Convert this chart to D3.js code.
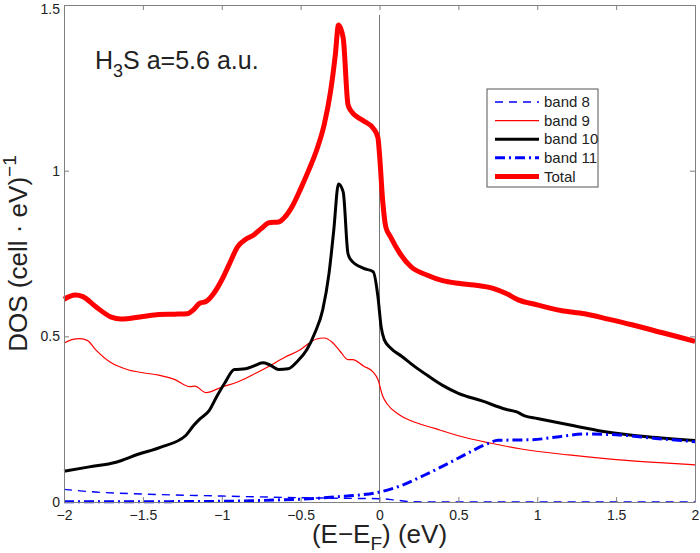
<!DOCTYPE html>
<html>
<head>
<meta charset="utf-8">
<script src="https://cdn.jsdelivr.net/npm/d3@7"></script>
<style>
  body { margin: 0; background: #fff; }
  svg { font-family: "Liberation Sans", Arial, sans-serif; }
</style>
</head>
<body>
<div id="chart"></div>
<script>
// energy (eV) vs DOS
const band8 = [[-2, 0.038], [-1.8, 0.03], [-1.5, 0.024], [-1.0, 0.018], [-0.5, 0.013], [-0.2, 0.011],
  [0, 0.01], [0.1, 0.006], [0.2, 0.001], [0.3, 0], [2, 0]];

const band9 = [[-2, 0.48], [-1.95, 0.49], [-1.9, 0.493], [-1.85, 0.487], [-1.8, 0.46], [-1.7, 0.42],
  [-1.6, 0.4], [-1.5, 0.39], [-1.4, 0.383], [-1.3, 0.37], [-1.2, 0.348], [-1.17, 0.35], [-1.1, 0.33],
  [-1.0, 0.347], [-0.9, 0.362], [-0.8, 0.385], [-0.7, 0.41], [-0.6, 0.437], [-0.5, 0.46], [-0.45, 0.478],
  [-0.4, 0.492], [-0.35, 0.495], [-0.3, 0.482], [-0.25, 0.455], [-0.2, 0.43], [-0.17, 0.43], [-0.1, 0.41],
  [-0.04, 0.392], [-0.01, 0.37], [0.02, 0.32], [0.05, 0.295], [0.12, 0.265], [0.2, 0.245], [0.35, 0.222],
  [0.5, 0.2], [0.7, 0.178], [0.9, 0.16], [1.2, 0.142], [1.5, 0.128], [1.8, 0.118], [2.0, 0.112]];

const band10 = [[-2, 0.093], [-1.84, 0.106], [-1.67, 0.12], [-1.53, 0.144], [-1.39, 0.165], [-1.23, 0.2],
  [-1.18, 0.23], [-1.14, 0.25], [-1.08, 0.276], [-1.03, 0.32], [-0.98, 0.36], [-0.92, 0.4], [-0.85, 0.402],
  [-0.8, 0.41], [-0.74, 0.42], [-0.7, 0.415], [-0.64, 0.4], [-0.58, 0.402], [-0.52, 0.425], [-0.46, 0.46],
  [-0.41, 0.51], [-0.36, 0.58], [-0.32, 0.69], [-0.29, 0.82], [-0.26, 0.96], [-0.23, 0.935], [-0.2, 0.75],
  [-0.18, 0.73], [-0.1, 0.705], [-0.04, 0.695], [-0.01, 0.62], [0.01, 0.53], [0.03, 0.49], [0.07, 0.465],
  [0.14, 0.44], [0.22, 0.41], [0.31, 0.38], [0.4, 0.352], [0.5, 0.328], [0.65, 0.305], [0.8, 0.28],
  [0.87, 0.272], [0.92, 0.26], [1.0, 0.252], [1.2, 0.233], [1.42, 0.213], [1.7, 0.197], [2.0, 0.186]];

const band11 = [[-2, 0.001], [-1.5, 0.001], [-1.0, 0.002], [-0.8, 0.004], [-0.6, 0.007], [-0.4, 0.011],
  [-0.26, 0.016], [-0.13, 0.021], [0, 0.03], [0.14, 0.05], [0.28, 0.08], [0.43, 0.115], [0.57, 0.15],
  [0.68, 0.175], [0.75, 0.186], [0.97, 0.188], [1.15, 0.198], [1.3, 0.205], [1.5, 0.203], [1.75, 0.192],
  [2.0, 0.182]];

const total = [[-2, 0.612], [-1.93, 0.625], [-1.88, 0.62], [-1.8, 0.59], [-1.7, 0.558], [-1.64, 0.552],
  [-1.5, 0.56], [-1.4, 0.566], [-1.3, 0.567], [-1.22, 0.568], [-1.18, 0.58], [-1.14, 0.6], [-1.1, 0.605],
  [-1.05, 0.63], [-1.0, 0.67], [-0.95, 0.72], [-0.9, 0.77], [-0.85, 0.792], [-0.8, 0.805], [-0.75, 0.825],
  [-0.7, 0.843], [-0.64, 0.845], [-0.6, 0.86], [-0.55, 0.895], [-0.5, 0.945], [-0.45, 1.0], [-0.4, 1.06],
  [-0.35, 1.14], [-0.31, 1.24], [-0.28, 1.35], [-0.26, 1.44], [-0.23, 1.40], [-0.2, 1.2], [-0.18, 1.18],
  [-0.1, 1.15], [-0.04, 1.128], [-0.01, 1.1], [0, 1.05], [0.02, 0.91], [0.04, 0.83], [0.07, 0.8],
  [0.13, 0.75], [0.2, 0.71], [0.3, 0.685], [0.4, 0.668], [0.5, 0.66], [0.6, 0.655], [0.72, 0.645],
  [0.8, 0.63], [0.88, 0.61], [1.0, 0.595], [1.15, 0.578], [1.3, 0.568], [1.45, 0.552], [1.6, 0.535],
  [1.8, 0.51], [2.0, 0.485]];

const fermiLine = [[0, 0], [0, 1.47]];

const xTicks = [-2, -1.5, -1, -0.5, 0, 0.5, 1, 1.5, 2];
const yTicks = [0, 0.5, 1, 1.5];
const legendNames = ["band 8", "band 9", "band 10", "band 11", "Total"];

const width = 700, height = 553;
const margin = { left: 64, right: 5, top: 5, bottom: 51 };

const svg = d3.select("#chart").append("svg")
  .attr("width", width)
  .attr("height", height);

const x = d3.scaleLinear().domain([-2, 2]).range([margin.left, width - margin.right]);
const y = d3.scaleLinear().domain([0, 1.5]).range([height - margin.bottom, margin.top]);

const line = d3.line()
  .x(d => x(d[0]))
  .y(d => y(d[1]))
  .curve(d3.curveMonotoneX);

// series styles, same order as legend
const series = [
  { data: band8, color: "#0000ff", w: 1.4, dash: "8,6" },
  { data: band9, color: "#ff0000", w: 1.2, dash: null },
  { data: band10, color: "#000000", w: 3, dash: null },
  { data: band11, color: "#0000ff", w: 3, dash: "10,4,2,4" },
  { data: total, color: "#ff0000", w: 5, dash: null }
];

const axisColor = "#808080";

// zero line
svg.append("path")
  .attr("d", d3.line().x(d => x(d[0])).y(d => y(d[1]))(fermiLine))
  .attr("stroke", "#777")
  .attr("stroke-width", 1)
  .attr("fill", "none");

const plotOrder = [1, 2, 4, 0, 3];
plotOrder.forEach(i => {
  const s = series[i];
  svg.append("path")
    .attr("d", line(s.data))
    .attr("fill", "none")
    .attr("stroke", s.color)
    .attr("stroke-width", s.w)
    .attr("stroke-dasharray", s.dash)
    .attr("stroke-linejoin", "round");
});

// axes, ticks inward on all four sides
const xb = svg.append("g").attr("transform", `translate(0,${y(0)})`)
  .call(d3.axisBottom(x).tickValues(xTicks).tickSizeInner(-5).tickSizeOuter(0).tickPadding(8)
    .tickFormat(d => d3.format("")(d).replace("-", "\u2212")));
const xt = svg.append("g").attr("transform", `translate(0,${y(1.5)})`)
  .call(d3.axisTop(x).tickValues(xTicks).tickSizeInner(-5).tickSizeOuter(0).tickFormat(""));
const yl = svg.append("g").attr("transform", `translate(${x(-2)},0)`)
  .call(d3.axisLeft(y).tickValues(yTicks).tickSizeInner(-5).tickSizeOuter(0).tickPadding(4)
    .tickFormat(d3.format("")));
const yr = svg.append("g").attr("transform", `translate(${x(2)},0)`)
  .call(d3.axisRight(y).tickValues(yTicks).tickSizeInner(-5).tickSizeOuter(0).tickFormat(""));

[xb, xt, yl, yr].forEach(g => {
  g.select(".domain").attr("stroke", axisColor);
  g.selectAll(".tick line").attr("stroke", axisColor);
  g.selectAll(".tick text").attr("fill", "#222").style("font-size", "14px")
    .style("font-family", "'Liberation Sans', Arial, sans-serif");
});
xb.selectAll(".tick text").attr("dy", "0.71em");
// keep the top label inside the picture
yl.selectAll(".tick text").filter(d => d === 1.5).attr("dy", "0.62em");

// axis labels
svg.append("text")
  .attr("x", x(0))
  .attr("y", 543)
  .attr("text-anchor", "middle")
  .style("font-size", "26px")
  .attr("fill", "#222")
  .html('(E\u2212E<tspan dy="7" font-size="19px">F</tspan><tspan dy="-7">) (eV)</tspan>');

svg.append("text")
  .attr("transform", `translate(27,${(y(0) + y(1.5)) / 2}) rotate(-90)`)
  .attr("text-anchor", "middle")
  .style("font-size", "26px")
  .attr("fill", "#222")
  .html('DOS (cell \u00b7 eV)<tspan dy="-11" font-size="19px">\u22121</tspan>');

// title
svg.append("text")
  .attr("x", 95)
  .attr("y", 69)
  .style("font-size", "25px")
  .attr("fill", "#222")
  .html('H<tspan dy="8" font-size="18px">3</tspan><tspan dy="-8">S a=5.6 a.u.</tspan>');

// legend
const lg = svg.append("g");
lg.append("rect")
  .attr("x", 487).attr("y", 89)
  .attr("width", 111).attr("height", 98)
  .attr("fill", "#fff")
  .attr("stroke", "#555")
  .attr("stroke-width", 1);

series.forEach((s, i) => {
  const ly = 102 + i * 18.6;
  lg.append("line")
    .attr("x1", 495).attr("x2", 539)
    .attr("y1", ly).attr("y2", ly)
    .attr("stroke", s.color)
    .attr("stroke-width", s.w)
    .attr("stroke-dasharray", s.dash);
  lg.append("text")
    .attr("x", 544).attr("y", ly)
    .attr("dy", "0.35em")
    .style("font-size", "15px")
    .attr("fill", "#222")
    .text(legendNames[i]);
});
</script>
</body>
</html>
